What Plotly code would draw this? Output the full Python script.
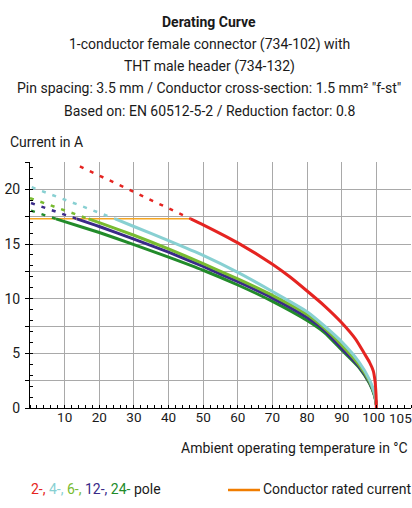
import plotly.graph_objects as go

# ---------------- data ----------------
# 2-pole (red)
t2_dash = [14.4, 46.4]
i2_dash = [22.1, 17.3]
t2 = [46.4, 50, 60, 70, 75, 80, 85, 90, 94, 96.5, 98, 99.1, 99.6, 99.9, 100]
i2 = [17.3, 16.75, 15.1, 13.15, 12.0, 10.7, 9.35, 7.8, 6.3, 5.0, 4.2, 3.4, 2.5, 1.2, 0.0]

# 4-pole (cyan)
t4_dash = [0.5, 24.6]
i4_dash = [20.2, 17.3]
t4 = [24.6, 30, 40, 50, 60, 70, 80, 85, 90, 95, 98, 99.5, 100]
i4 = [17.3, 16.6, 15.3, 13.95, 12.4, 10.65, 8.8, 7.5, 6.05, 4.2, 2.6, 1.3, 0.3]

# 6-pole (light green)
t6_dash = [0.0, 16.9]
i6_dash = [19.2, 17.3]
t6 = [16.9, 20, 30, 40, 50, 60, 70, 80, 85, 90, 95, 98, 99.5, 100]
i6 = [17.3, 16.95, 15.8, 14.55, 13.2, 11.8, 10.3, 8.55, 7.3, 5.75, 3.95, 2.45, 1.2, 0.3]

# 12-pole (purple)
t12_dash = [0.3, 13.5]
i12_dash = [18.75, 17.3]
t12 = [13.5, 20, 30, 40, 50, 60, 70, 80, 85, 90, 95, 98, 99.5, 100]
i12 = [17.3, 16.6, 15.45, 14.25, 12.95, 11.55, 10.05, 8.27, 7.1, 5.45, 3.8, 2.35, 1.15, 0.3]

# 24-pole (dark green)
t24_dash = [0.3, 7.5]
i24_dash = [18.05, 17.3]
t24 = [7.5, 10, 20, 30, 40, 50, 60, 70, 80, 85, 90, 95, 98, 99.5, 100]
i24 = [17.3, 17.05, 16.05, 14.95, 13.8, 12.6, 11.25, 9.75, 8.0, 6.9, 5.3, 3.7, 2.25, 1.1, 0.3]

# conductor rated current (orange)
rated_t = [0, 46.4]
rated_i = [17.3, 17.3]

x_tickvals = [0, 10, 20, 30, 40, 50, 60, 70, 80, 90, 100, 110]
x_ticktext = ["", "10", "20", "30", "40", "50", "60", "70", "80", "90", "100\u2009\u2009", ""]
y_tickvals = [0, 2.5, 5, 7.5, 10, 12.5, 15, 17.5, 20, 22.5]
y_ticktext = ["0", "", "5", "", "10", "", "15", "", "20", ""]

title_lines = [
    "<b>Derating Curve</b>",
    "1-conductor female connector (734-102) with",
    "THT male header (734-132)",
    "Pin spacing: 3.5 mm / Conductor cross-section: 1.5 mm² \"f-st\"",
    "Based on: EN 60512-5-2 / Reduction factor: 0.8",
]

# ---------------- styling ----------------
FONT = "Roboto, sans-serif"
FS = 14
FS_X = 13.5
TXT = "#1a1a1a"
RED = "#e52421"
CYAN = "#88d0d2"
LGREEN = "#78bb30"
PURPLE = "#3a2a88"
DGREEN = "#228b2a"
ORANGE = "#f5a623"
ORANGE_LEG = "#f07d00"

W, H = 412, 508
L, R, T, B = 30, 1, 162, 100
PW, PH = W - L - R, H - T - B


def px(x):
    return (x - L) / PW


def py(y):
    return (H - B - y) / PH


fig = go.Figure()

fig.add_trace(go.Scatter(x=rated_t, y=rated_i, mode="lines",
                         line=dict(color=ORANGE, width=1.5), hoverinfo="skip"))

series = [
    (t24_dash, i24_dash, t24, i24, DGREEN),
    (t12_dash, i12_dash, t12, i12, PURPLE),
    (t6_dash, i6_dash, t6, i6, LGREEN),
    (t4_dash, i4_dash, t4, i4, CYAN),
    (t2_dash, i2_dash, t2, i2, RED),
]
for td, idsh, ts, isol, col in series:
    fig.add_trace(go.Scatter(x=td, y=idsh, mode="lines",
                             line=dict(color=col, width=2.5, dash="4px,7px")))
    fig.add_trace(go.Scatter(x=ts, y=isol, mode="lines",
                             line=dict(color=col, width=3, shape="spline", smoothing=0.6)))

annotations = []
ys = [22, 44.5, 66.5, 88.5, 110.5]
for txt, yy in zip(title_lines, ys):
    annotations.append(dict(text=txt, x=px(209), y=py(yy), xref="paper", yref="paper",
                            xanchor="center", yanchor="middle", showarrow=False,
                            font=dict(size=FS, color=TXT, family=FONT)))

annotations.append(dict(text="Current in A", x=px(8), y=py(142.5), xref="paper", yref="paper",
                        xanchor="left", yanchor="middle", showarrow=False,
                        font=dict(size=FS, color=TXT, family=FONT)))
annotations.append(dict(text="Ambient operating temperature in °C", x=px(410), y=py(447.5),
                        xref="paper", yref="paper", xanchor="right", yanchor="middle",
                        showarrow=False, font=dict(size=FS, color=TXT, family=FONT)))
annotations.append(dict(text="105", x=105, y=0, xref="x", yref="paper", xshift=7, yshift=-10,
                        xanchor="center", yanchor="middle", showarrow=False,
                        font=dict(size=FS_X, color=TXT, family=FONT)))
legend_txt = (f'<span style="color:{RED}">2-,</span> '
              f'<span style="color:{CYAN}">4-,</span> '
              f'<span style="color:{LGREEN}">6-,</span> '
              f'<span style="color:{PURPLE}">12-,</span> '
              f'<span style="color:{DGREEN}">24-</span> pole')
annotations.append(dict(text=legend_txt, x=px(29), y=py(489), xref="paper", yref="paper",
                        xanchor="left", yanchor="middle", showarrow=False,
                        font=dict(size=FS, color=TXT, family=FONT)))
annotations.append(dict(text="Conductor rated current", x=px(261), y=py(489), xref="paper",
                        yref="paper", xanchor="left", yanchor="middle", showarrow=False,
                        font=dict(size=FS, color=TXT, family=FONT)))

shapes = [dict(type="line", xref="paper", yref="paper", x0=px(228), x1=px(260),
               y0=py(490), y1=py(490), line=dict(color=ORANGE_LEG, width=2.5))]

GRID = "#a9a9a9"
fig.update_layout(
    width=W, height=H, margin=dict(l=L, r=R, t=T, b=B),
    paper_bgcolor="white", plot_bgcolor="white", showlegend=False,
    annotations=annotations, shapes=shapes,
    xaxis=dict(range=[0, 110], tickvals=x_tickvals, ticktext=x_ticktext, tickangle=0,
               showgrid=True, gridcolor=GRID, gridwidth=1, zeroline=False,
               showline=True, linecolor="black", linewidth=1, ticks="",
               ticklabelstandoff=-3,
               tickfont=dict(size=FS_X, color=TXT, family=FONT),
               minor=dict(ticks="inside", dtick=2, ticklen=3, tickcolor="black", showgrid=False),
               fixedrange=True),
    yaxis=dict(range=[0, 22.5], tickvals=y_tickvals, ticktext=y_ticktext,
               showgrid=True, gridcolor=GRID, gridwidth=1, zeroline=False,
               showline=True, linecolor="black", linewidth=1, ticks="outside", ticklen=4,
               tickcolor="black", ticklabelstandoff=2,
               tickfont=dict(size=FS, color=TXT, family=FONT),
               minor=dict(ticks="inside", dtick=1, ticklen=3, tickcolor="black", showgrid=False),
               fixedrange=True),
)

fig.write_html("out.html", config={"displayModeBar": False},
               post_script="document.body.style.margin='0';document.body.style.overflow='hidden';")
